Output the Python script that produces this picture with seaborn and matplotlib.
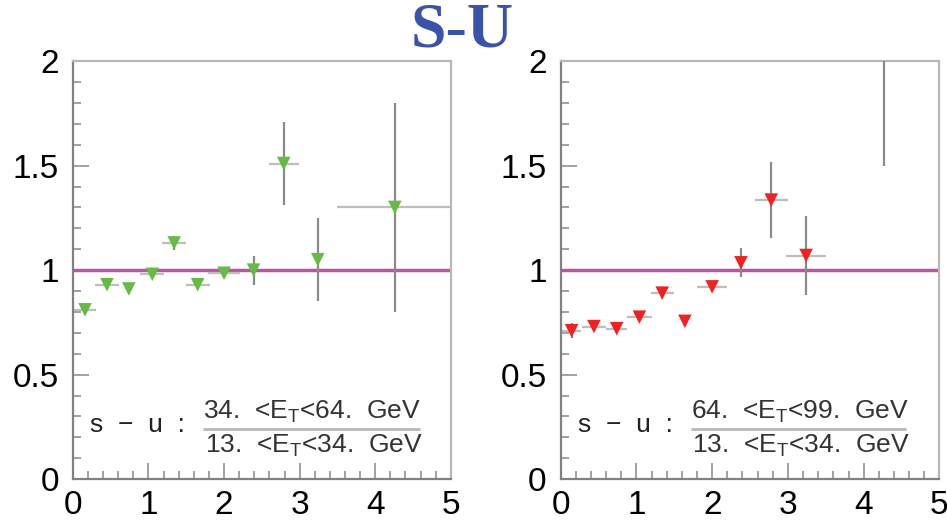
import matplotlib
matplotlib.use("Agg")
import matplotlib.pyplot as plt
from matplotlib.ticker import MultipleLocator
import seaborn as sns
import pandas as pd

# Ratio S-U for two E_T windows, versus the x variable (0..5)
left_x = [0.16, 0.45, 0.74, 1.05, 1.34, 1.65, 2.00, 2.39, 2.79, 3.24, 4.26]
left_y = [0.81, 0.93, 0.91, 0.98, 1.13, 0.93, 0.985, 1.00, 1.51, 1.05, 1.30]
left_yerr = [0.01, 0.015, 0.02, 0.02, 0.035, 0.02, 0.02, 0.07, 0.20, 0.20, 0.50]
left_xerr = [0.14, 0.16, 0.0, 0.16, 0.16, 0.16, 0.21, 0.0, 0.20, 0.0, 0.77]

right_x = [0.145, 0.44, 0.74, 1.04, 1.34, 1.64, 2.00, 2.38, 2.78, 3.24, 4.27]
right_y = [0.71, 0.73, 0.72, 0.775, 0.89, 0.755, 0.92, 1.035, 1.335, 1.07, 2.30]
right_yerr = [0.036, 0.02, 0.02, 0.02, 0.02, 0.02, 0.025, 0.07, 0.18, 0.19, 0.80]
right_xerr = [0.13, 0.16, 0.14, 0.17, 0.15, 0.0, 0.20, 0.0, 0.22, 0.26, 0.0]

left_num = r"34.  <E$_\mathrm{T}$<64.  GeV"
left_den = r"13.  <E$_\mathrm{T}$<34.  GeV"
right_num = r"64.  <E$_\mathrm{T}$<99.  GeV"
right_den = r"13.  <E$_\mathrm{T}$<34.  GeV"
ratio_label = "s  \u2212  u  :"
title = "S-U"

x_ticks = [0, 1, 2, 3, 4, 5]
y_ticks = [0, 0.5, 1, 1.5, 2]
y_ticklabels = ["0", "0.5", "1", "1.5", "2"]

sns.set_style("white")
plt.rcParams["font.family"] = ["Liberation Sans", "DejaVu Sans"]
plt.rcParams["mathtext.fontset"] = "custom"
plt.rcParams["mathtext.rm"] = "Liberation Sans"
plt.rcParams["mathtext.it"] = "Liberation Sans"

fig = plt.figure(figsize=(9.47, 5.22), dpi=100)
fig.patch.set_facecolor("white")

ax_l = fig.add_axes([0.077, 0.082, 0.399, 0.801])
ax_r = fig.add_axes([0.592, 0.082, 0.400, 0.801])

panels = [
    (ax_l, left_x, left_y, left_xerr, left_yerr, "#66bb44", left_num, left_den, 0.344, 0.918),
    (ax_r, right_x, right_y, right_xerr, right_yerr, "#ee2222", right_num, right_den, 0.343, 0.913),
]

for ax, xs, ys, xe, ye, col, num, den, x0, x1 in panels:
    df = pd.DataFrame({"x": xs, "y": ys})
    ax.axhline(1.0, color="#b8569f", lw=2.5, zorder=1)
    ax.errorbar(xs, ys, xerr=xe, fmt="none", ecolor="#bdbdbd", elinewidth=1.6,
                capsize=0, zorder=2)
    ax.errorbar(xs, ys, yerr=ye, fmt="none", ecolor="#8a8a8a", elinewidth=1.6,
                capsize=0, zorder=3)
    sns.scatterplot(data=df, x="x", y="y", ax=ax, marker="v", s=95, color=col,
                    edgecolor="none", linewidth=0, zorder=4, legend=False)

    ax.set_xlim(0, 5)
    ax.set_ylim(0, 2)
    ax.set_xlabel("")
    ax.set_ylabel("")
    ax.set_xticks(x_ticks)
    ax.set_xticklabels([str(t) for t in x_ticks])
    ax.set_yticks(y_ticks)
    ax.set_yticklabels(y_ticklabels)
    ax.xaxis.set_minor_locator(MultipleLocator(0.2))
    ax.yaxis.set_minor_locator(MultipleLocator(0.1))
    ax.tick_params(axis="both", which="both", direction="in", color="#9a9a9a",
                   width=1.3, labelsize=24, labelcolor="black")
    ax.tick_params(axis="both", which="major", length=11.5)
    ax.tick_params(axis="both", which="minor", length=5.5)
    ax.tick_params(axis="y", which="both", left=True, right=False, pad=10)
    ax.tick_params(axis="x", which="both", bottom=True, top=False, pad=8)

    for side in ("bottom", "left"):
        ax.spines[side].set_color("#808080")
        ax.spines[side].set_linewidth(1.6)
    for side in ("top", "right"):
        ax.spines[side].set_color("#b8b8b8")
        ax.spines[side].set_linewidth(1.6)

    ax.text(0.045, 0.112, ratio_label, transform=ax.transAxes, fontsize=19,
            ha="left", va="baseline", color="#222222")
    ax.text(x0, 0.1435, num, transform=ax.transAxes, fontsize=19,
            ha="left", va="baseline", color="#333333")
    ax.text(x0 + 0.005, 0.062, den, transform=ax.transAxes, fontsize=19,
            ha="left", va="baseline", color="#333333")
    ax.plot([x0, x1], [0.12, 0.12], transform=ax.transAxes, color="#bdbdbd",
            lw=2.2, solid_capstyle="butt", clip_on=False, zorder=5)

fig.text(462 / 947, 1 - 31 / 522, title, ha="center", va="center",
         fontsize=46, fontweight="bold", family="Liberation Serif",
         color="#3a52a8")

fig.savefig("out.png", dpi=100, facecolor="white")
